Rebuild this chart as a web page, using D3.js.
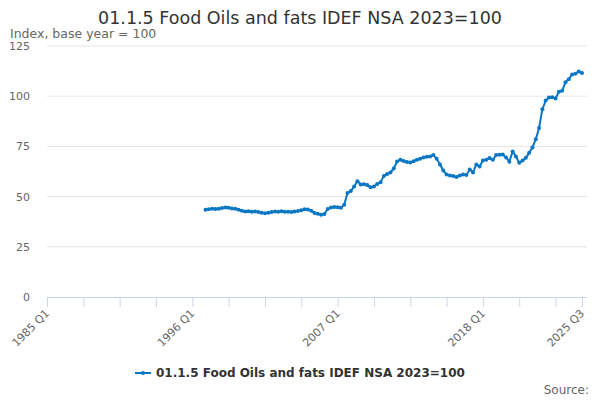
<!DOCTYPE html>
<html>
<head>
<meta charset="utf-8">
<script src="https://d3js.org/d3.v7.min.js"></script>
<style>
  body { margin: 0; background: #fff; }
  svg { font-family: "DejaVu Sans", sans-serif; }
</style>
</head>
<body>
<div id="chart"></div>
<script>
// quarters counted from 1985 Q1 (index 0); the series starts at 1997 Q1
var startYear = 1985;
var firstIndex = 48;
var lastIndex = 162;
var values = [
  43.5, 43.7, 43.9, 43.8, 43.9, 44.3, 44.6, 44.4, 44.1, 43.9,
  43.5, 43.0, 42.6, 42.7, 42.5, 42.6, 42.3, 41.9, 41.7, 42.0,
  42.3, 42.6, 42.5, 42.7, 42.4, 42.5, 42.3, 42.6, 42.8, 43.2,
  43.7, 43.6, 43.0, 41.8, 41.5, 41.0, 41.3, 43.8, 44.6, 44.8,
  44.7, 44.5, 46.0, 51.8, 52.8, 55.0, 57.7, 56.0, 56.2, 55.8,
  54.6, 55.0, 56.3, 57.2, 60.3, 61.2, 62.0, 64.0, 67.5, 68.3,
  67.7, 67.2, 67.0, 67.6, 68.3, 68.8, 69.5, 69.8, 70.0, 70.7,
  68.8, 66.0, 63.0, 61.0, 60.5, 60.2, 59.8, 60.5, 61.0, 60.8,
  63.5, 62.0, 66.0, 65.0, 68.0, 68.3, 69.2, 68.3, 70.7, 70.9,
  71.0, 69.5, 67.4, 72.5, 70.0, 66.8, 68.0, 69.3, 71.8, 74.5,
  78.5, 84.2, 93.5, 97.8, 99.3, 99.5, 98.9, 102.2, 102.7, 107.0,
  108.5, 110.8, 111.2, 112.3, 111.5
];
var yTicks = [0, 25, 50, 75, 100, 125];
var xTickIndex = [0, 11, 22, 33, 44, 55, 66, 77, 88, 99, 110, 121, 132, 143, 154, 162];
var xLabelIndex = [0, 44, 88, 132, 162];
var seriesName = "01.1.5 Food Oils and fats IDEF NSA 2023=100";

function quarterLabel(i) {
  return (startYear + Math.floor(i / 4)) + " Q" + (i % 4 + 1);
}

var data = values.map(function(v, k) { return { q: firstIndex + k, value: v }; });

var W = 600, H = 400;
var margin = { top: 46, right: 18, bottom: 103, left: 47 };

var svg = d3.select("#chart").append("svg")
  .attr("width", W)
  .attr("height", H);

var x = d3.scaleLinear()
  .domain([0, lastIndex])
  .range([margin.left, 582]);

var y = d3.scaleLinear()
  .domain([0, 125])
  .range([H - margin.bottom, margin.top]);

// gridlines
svg.append("g")
  .selectAll("line")
  .data(yTicks.filter(function(d) { return d > 0; }))
  .enter().append("line")
  .attr("x1", margin.left)
  .attr("x2", 587)
  .attr("y1", function(d) { return y(d); })
  .attr("y2", function(d) { return y(d); })
  .attr("stroke", "#e6e6e6")
  .attr("stroke-width", 1);

// y labels
svg.append("g")
  .selectAll("text")
  .data(yTicks)
  .enter().append("text")
  .attr("x", 30)
  .attr("y", function(d) { return y(d) + 4; })
  .attr("text-anchor", "end")
  .attr("fill", "#666")
  .style("font-size", "11px")
  .text(function(d) { return d; });

// x axis
var xAxis = svg.append("g")
  .attr("transform", "translate(0," + y(0) + ")")
  .call(d3.axisBottom(x).tickValues(xTickIndex).tickSize(10).tickFormat(""));
xAxis.select(".domain").attr("stroke", "#ccd6eb").attr("d", "M" + margin.left + ",0.5H587");
xAxis.selectAll(".tick line").attr("stroke", "#ccd6eb");

svg.append("g")
  .selectAll("text")
  .data(xLabelIndex)
  .enter().append("text")
  .attr("transform", function(d) {
    return "translate(" + (x(d) + 3) + "," + (y(0) + 17) + ") rotate(-45)";
  })
  .attr("text-anchor", "end")
  .attr("fill", "#666")
  .style("font-size", "11px")
  .text(quarterLabel);

// series
var color = "#0a77c4";
var line = d3.line()
  .x(function(d) { return x(d.q); })
  .y(function(d) { return y(d.value); });

svg.append("path")
  .datum(data)
  .attr("fill", "none")
  .attr("stroke", color)
  .attr("stroke-width", 2)
  .attr("stroke-linejoin", "round")
  .attr("d", line);

svg.append("g")
  .selectAll("circle")
  .data(data)
  .enter().append("circle")
  .attr("cx", function(d) { return x(d.q); })
  .attr("cy", function(d) { return y(d.value); })
  .attr("r", 2)
  .attr("fill", color);

// title and subtitle
svg.append("text")
  .attr("x", W / 2)
  .attr("y", 24)
  .attr("text-anchor", "middle")
  .attr("fill", "#333")
  .style("font-size", "17.5px")
  .text(seriesName);

svg.append("text")
  .attr("x", 10)
  .attr("y", 38)
  .attr("fill", "#666")
  .style("font-size", "12.5px")
  .text("Index, base year = 100");

// legend
var legend = svg.append("g").attr("transform", "translate(135,373)");
legend.append("line")
  .attr("x1", 0).attr("x2", 16)
  .attr("y1", 0).attr("y2", 0)
  .attr("stroke", color)
  .attr("stroke-width", 2);
legend.append("circle")
  .attr("cx", 8).attr("cy", 0).attr("r", 2)
  .attr("fill", color);
legend.append("text")
  .attr("x", 21)
  .attr("y", 4)
  .attr("fill", "#333")
  .style("font-size", "12px")
  .style("font-weight", "bold")
  .text(seriesName);

svg.append("text")
  .attr("x", 589)
  .attr("y", 394)
  .attr("text-anchor", "end")
  .attr("fill", "#666")
  .style("font-size", "12px")
  .text("Source:");
</script>
</body>
</html>
